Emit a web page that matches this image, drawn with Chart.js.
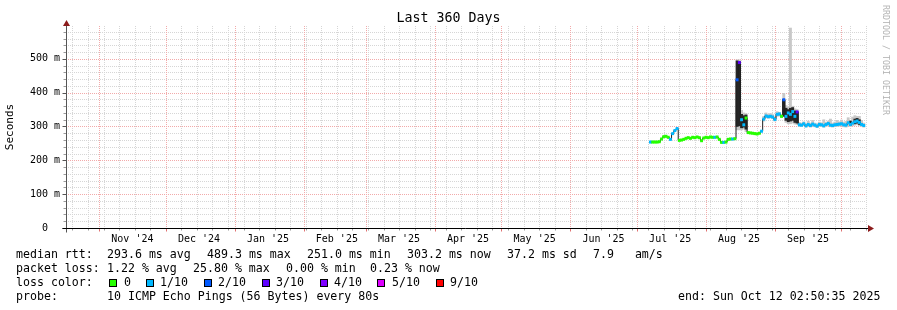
<!DOCTYPE html>
<html><head><meta charset="utf-8">
<script src="https://cdn.jsdelivr.net/npm/chart.js@4/dist/chart.umd.min.js"></script>
<style>
html,body{margin:0;padding:0;background:#fff;}
#wrap{position:relative;width:897px;height:310px;overflow:hidden;background:#fff;}
canvas{position:absolute;left:0;top:0;}
.t{position:absolute;font-family:"DejaVu Sans Mono",monospace;font-size:11.6px;line-height:14px;color:#000;white-space:pre;}
.box{position:absolute;width:6px;height:6px;border:1px solid #000;top:279px;}
#wm{position:absolute;left:891px;top:5px;font-family:"DejaVu Sans Mono",monospace;font-size:8.3px;line-height:10px;color:#b4b4b4;white-space:pre;transform:rotate(90deg);transform-origin:0 0;}
</style></head><body>
<div id="wrap">
<canvas id="c" width="897" height="310"></canvas>
<div id="wm">RRDTOOL / TOBI OETIKER</div>
<div id="legend"></div>
</div>
<script>
// ---- data (day offsets from start of the 360-day window: Oct 17 2024 02:50:35) ----
const days = [263,264,265,266,267,268,269,270,271,272,273,274,275,276,277,278,279,280,281,282,283,284,285,286,287,288,289,290,291,292,293,294,295,296,297,298,299,300,301,302,303,304,305,306,307,308,309,310,311,312,313,314,315,316,317,318,319,320,321,322,323,324,325,326,327,328,329,330,331,332,333,334,335,336,337,338,339,340,341,342,343,344,345,346,347,348,349,350,351,352,353,354,355,356,357,358,359];
const medianMs = [254,254,254,254,255,263,270,271,268,262,279,288,294,259,260,262,265,267,265,268,267,269,267,258,266,268,267,269,268,268,269,262,253,253,254,262,263,263,264,438,489,320,305,325,282,281,280,279,278,280,286,322,331,329,330,328,321,336,337,330,379,330,340,336,344,330,343,305,304,308,302,306,303,307,304,301,306,305,302,306,309,304,303,305,306,307,308,305,304,311,306,310,314,316,312,306,303];
const lossOf10 = [1,0,0,0,0,0,0,0,0,1,1,1,1,0,0,0,0,0,0,0,0,0,0,0,0,0,0,0,0,1,0,0,0,1,0,0,0,1,0,2,3,1,1,0,0,0,0,0,0,0,1,1,1,1,1,1,1,1,1,0,2,1,1,1,1,1,3,1,1,1,1,1,1,1,1,1,1,1,1,1,1,1,1,1,1,1,1,1,1,1,1,1,1,1,1,1,1];
const smokeLo = [null,null,null,null,null,null,null,null,null,null,null,null,null,null,null,null,null,null,null,null,null,null,null,null,null,null,null,null,null,null,null,null,null,null,null,null,null,null,null,290,290,290,292,285,null,null,null,null,null,null,null,316,326,324,325,323,316,330,331,326,330,312,308,308,310,307,306,300,300,302,298,300,298,301,299,297,300,300,298,300,302,299,298,300,300,301,302,299,298,302,300,302,304,306,302,300,298];
const smokeHi = [null,null,null,null,null,null,null,null,null,null,null,null,null,null,null,null,null,null,null,null,null,null,null,null,null,null,null,null,null,null,null,null,null,null,null,null,null,null,null,497,497,348,340,338,null,null,null,null,null,null,null,330,340,336,338,335,328,344,342,336,398,362,358,591,360,352,350,312,310,314,308,316,310,318,310,308,313,311,320,312,316,322,310,313,318,314,319,313,315,326,318,328,332,330,330,318,310];
const denseLo = [null,null,null,null,null,null,null,null,null,null,null,null,null,null,null,null,null,null,null,null,null,null,null,null,null,null,null,null,null,null,null,null,null,null,null,null,null,null,null,300,302,296,298,292,null,null,null,null,null,null,null,null,null,null,null,null,null,null,null,null,330,318,314,316,318,312,310,null,null,null,null,null,null,null,null,null,null,null,null,null,null,null,null,null,null,null,null,null,null,null,304,null,308,310,306,null,null];
const denseHi = [null,null,null,null,null,null,null,null,null,null,null,null,null,null,null,null,null,null,null,null,null,null,null,null,null,null,null,null,null,null,null,null,null,null,null,null,null,null,null,494,492,336,332,334,null,null,null,null,null,null,null,null,null,null,null,null,null,null,null,null,380,354,350,354,356,346,344,null,null,null,null,null,null,null,null,null,null,null,null,null,null,null,null,null,null,null,null,null,null,null,316,null,322,324,320,null,null];

// ---- axis / tick definitions ----
const monthLabelPos = [29.88,59.88,90.88,121.88,149.88,180.88,210.88,241.88,271.88,302.88,333.88];
const monthLabels = ["Nov '24","Dec '24","Jan '25","Feb '25","Mar '25","Apr '25","May '25","Jun '25","Jul '25","Aug '25","Sep '25"];
const monthStarts = [14.88,44.88,75.88,106.88,134.88,165.88,195.88,226.88,256.88,287.88,318.88,348.88];
const firstWeek = 2.88, weekLen = 7;
const yTickValues = [0,100,200,300,400,500];
const yMinorStep = 20, yMaxMs = 597, xMaxDays = 360;
const lossColors = {0:'#26ff00',1:'#00b8ff',2:'#0059ff',3:'#5e00ff',4:'#7e00ff',5:'#dd00ff',9:'#ff0000'};

// ---- legend texts ----
const legendRows = [
  {top:247, items:[[16,'median rtt:'],[107,'293.6 ms avg'],[207,'489.3 ms max'],[307,'251.0 ms min'],[407,'303.2 ms now'],[507,'37.2 ms sd'],[593,'7.9   am/s']]},
  {top:261, items:[[16,'packet loss:'],[107,'1.22 % avg'],[193,'25.80 % max'],[286,'0.00 % min'],[370,'0.23 % now']]},
  {top:275, items:[[16,'loss color:'],[124,'0'],[160,'1/10'],[218,'2/10'],[276,'3/10'],[334,'4/10'],[392,'5/10'],[450,'9/10']]},
  {top:289, items:[[16,'probe:'],[107,'10 ICMP Echo Pings (56 Bytes) every 80s'],[678,'end: Sun Oct 12 02:50:35 2025']]}
];
const legendBoxes = [[108.5,0],[146,1],[203.5,2],[261.5,3],[319.5,4],[377,5],[435.5,9]];

const leg = document.getElementById('legend');
legendRows.forEach(r => r.items.forEach(([x,s]) => {
  const d = document.createElement('div'); d.className='t'; d.style.left=x+'px'; d.style.top=r.top+'px'; d.textContent=s; leg.appendChild(d);
}));
legendBoxes.forEach(([x,l]) => {
  const d = document.createElement('div'); d.className='box'; d.style.left=x+'px'; d.style.background=lossColors[l]; leg.appendChild(d);
});

const FONT = '"DejaVu Sans Mono", monospace';
Chart.defaults.color = '#000';
Chart.defaults.font.family = FONT;

function pts(lo, hi) {
  const out = [];
  days.forEach((d,i) => { if (lo[i] != null && hi[i] != null) out.push({x:d, y:[lo[i], hi[i]]}); });
  return out;
}

const rrdGrid = {
  id:'rrdGrid',
  beforeDatasetsDraw(chart) {
    const {ctx, chartArea:a, scales:{x, y}} = chart;
    const line = (x1,y1,x2,y2) => { ctx.beginPath(); ctx.moveTo(x1,y1); ctx.lineTo(x2,y2); ctx.stroke(); };
    ctx.save();
    ctx.lineWidth = 1;
    ctx.setLineDash([1,1]);
    ctx.strokeStyle = '#d6d6d6';
    for (let v = yMinorStep; v < yMaxMs; v += yMinorStep) {
      if (v % 100 === 0) continue;
      const py = Math.round(y.getPixelForValue(v)) + 0.5;
      line(a.left, py, a.right, py);
    }
    for (let d = firstWeek; d < xMaxDays; d += weekLen) {
      const px = Math.round(x.getPixelForValue(d)) + 0.5;
      line(px, a.top, px, a.bottom);
    }
    ctx.strokeStyle = '#f2aaaa';
    yTickValues.forEach(v => { if (!v) return; const py = Math.round(y.getPixelForValue(v)) + 0.5; line(a.left, py, a.right, py); });
    monthStarts.forEach(d => { const px = Math.round(x.getPixelForValue(d)) + 0.5; line(px, a.top, px, a.bottom); });
    ctx.restore();
  },
  afterDatasetsDraw(chart) {
    const {ctx, chartArea:a, scales:{x, y}} = chart;
    const line = (x1,y1,x2,y2) => { ctx.beginPath(); ctx.moveTo(x1,y1); ctx.lineTo(x2,y2); ctx.stroke(); };
    ctx.save();
    ctx.lineWidth = 1;
    const ax = Math.round(a.left) + 0.5, ay = Math.round(a.bottom) + 0.5;
    ctx.strokeStyle = '#9a9a9a';
    for (let v = yMinorStep; v < yMaxMs; v += yMinorStep) { const py = Math.round(y.getPixelForValue(v)) + 0.5; line(ax-3, py, ax, py); }
    for (let d = firstWeek; d < xMaxDays; d += weekLen) { const px = Math.round(x.getPixelForValue(d)) + 0.5; line(px, ay, px, ay+2); }
    ctx.strokeStyle = '#e07070';
    monthStarts.forEach(d => { const px = Math.round(x.getPixelForValue(d)) + 0.5; line(px, ay, px, ay+3); });
    ctx.strokeStyle = '#555';
    yTickValues.forEach(v => { const py = Math.round(y.getPixelForValue(v)) + 0.5; line(ax-4, py, ax, py); });
    line(ax, ay+4, ax, a.top - 2);
    ctx.strokeStyle = '#000';
    line(ax-4, ay, a.right + 2, ay);
    ctx.fillStyle = '#8c1c1c';
    ctx.beginPath(); ctx.moveTo(a.right+2, ay-3.5); ctx.lineTo(a.right+8, ay); ctx.lineTo(a.right+2, ay+3.5); ctx.closePath(); ctx.fill();
    ctx.beginPath(); ctx.moveTo(ax-3.5, a.top); ctx.lineTo(ax, a.top-6); ctx.lineTo(ax+3.5, a.top); ctx.closePath(); ctx.fill();
    ctx.restore();
  }
};

new Chart(document.getElementById('c'), {
  type:'line',
  data:{
    datasets:[
      {type:'bar', label:'smoke', data:pts(smokeLo, smokeHi), backgroundColor:'#c8c8c8', borderWidth:0, grouped:false, barPercentage:1, categoryPercentage:1, order:4},
      {type:'bar', label:'dense', data:pts(denseLo, denseHi), backgroundColor:'#262626', borderWidth:0, grouped:false, barPercentage:1, categoryPercentage:1, order:3},
      {type:'line', label:'median', data:days.map((d,i)=>({x:d, y:medianMs[i]})), borderColor:'#1e1e1e', borderWidth:1, stepped:'middle', pointRadius:0, order:2},
      {type:'bar', label:'loss', data:days.map((d,i)=>({x:d, y:[medianMs[i]-3.5, medianMs[i]+3.5]})), backgroundColor:(c)=>lossColors[lossOf10[c.dataIndex]], borderWidth:0, grouped:false, barPercentage:1, categoryPercentage:1, order:1}
    ]
  },
  options:{
    responsive:false, animation:false, events:[],
    layout:{padding:{left:0, right:0, top:0, bottom:62}},
    plugins:{
      legend:{display:false}, tooltip:{enabled:false},
      title:{display:true, text:'Last 360 Days', color:'#000', font:{family:FONT, size:13.3, weight:'normal', lineHeight:'15px'}, padding:{top:11, bottom:0}}
    },
    scales:{
      x:{type:'linear', min:0, max:xMaxDays, offset:false,
         grid:{display:false, drawTicks:false}, border:{display:false},
         afterBuildTicks:(s)=>{ s.ticks = monthLabelPos.map(v=>({value:v})); },
         afterFit:(s)=>{ s.height = 20; },
         ticks:{autoSkip:false, maxRotation:0, padding:5, font:{family:FONT, size:10}, color:'#000', callback:(v,i)=>monthLabels[i]}},
      y:{type:'linear', position:'left', min:0, max:yMaxMs,
         grid:{display:false, drawTicks:false}, border:{display:false},
         afterBuildTicks:(s)=>{ s.ticks = yTickValues.map(v=>({value:v})); },
         afterFit:(s)=>{ s.width = 66; },
         ticks:{padding:6, font:{family:FONT, size:10}, color:'#000', callback:(v)=> v===0 ? '0  ' : v + ' m'},
         title:{display:true, text:'Seconds', color:'#000', font:{family:FONT, size:11}, padding:{top:4, bottom:0}}},
      yr:{type:'linear', position:'right', display:true,
         grid:{display:false, drawTicks:false}, border:{display:false}, ticks:{display:false},
         afterFit:(s)=>{ s.width = 31; }}
    }
  },
  plugins:[rrdGrid]
});
</script>
</body></html>
